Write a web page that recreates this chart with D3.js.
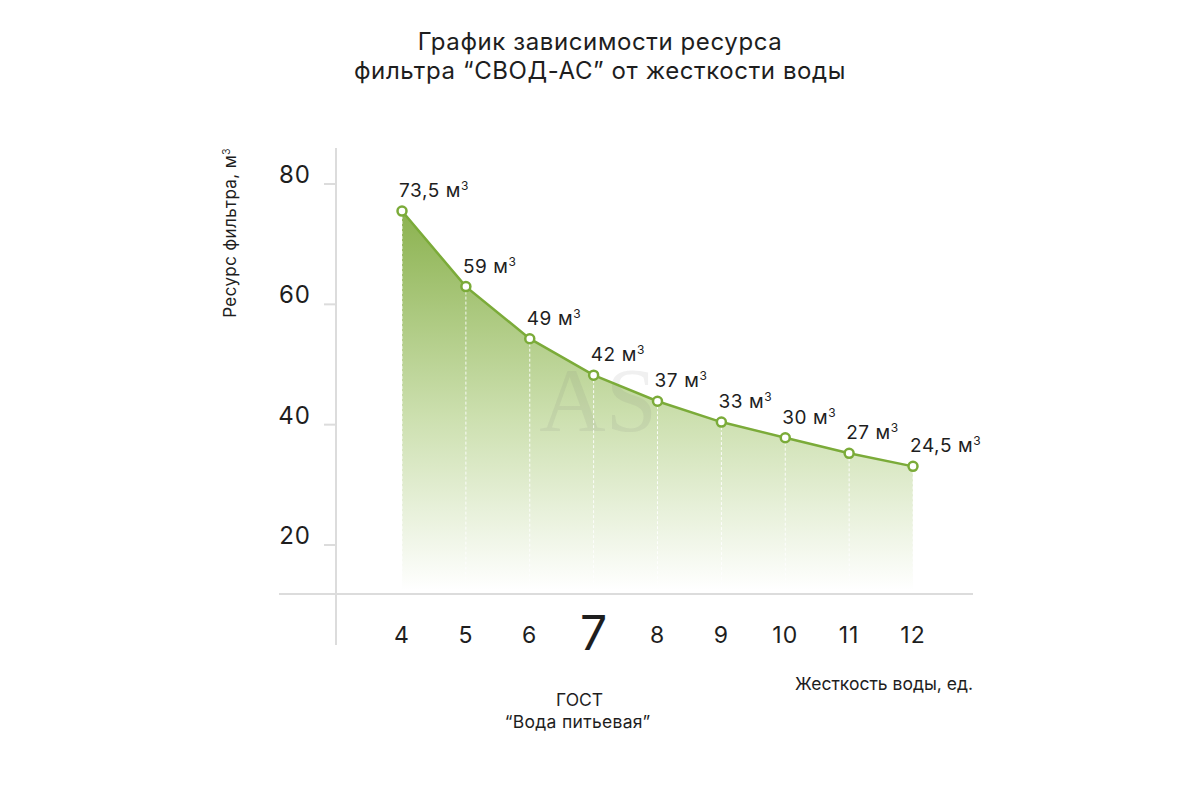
<!DOCTYPE html>
<html>
<head>
<meta charset="utf-8">
<script src="https://cdn.jsdelivr.net/npm/d3@7"></script>
<style>
  body { margin: 0; background: #fff; }
  svg text { font-family: Inter, "Noto Sans", sans-serif; fill: #1e1e1e; }
</style>
</head>
<body>
<script>
"use strict";
// data
const hardness = [4, 5, 6, 7, 8, 9, 10, 11, 12];
const resource = [73.5, 59, 49, 42, 37, 33, 30, 27, 24.5];
const labels = ["73,5", "59", "49", "42", "37", "33", "30", "27", "24,5"];
const yTicks = [20, 40, 60, 80];
const xTicks = [4, 5, 6, 7, 8, 9, 10, 11, 12];
const gostTick = 7;

const width = 1200, height = 800;
const green = "#7bab39";

let svg = d3.select("body")
    .append("svg")
    .attr("width", width)
    .attr("height", height);

let x = d3.scaleLinear().domain([4, 12]).range([402, 913]);
// points are drawn on their own scale, zero at the x axis
let y = d3.scaleLinear().domain([0, 100]).range([594, 73]);
// the axis labels of the original are not on the point scale
let yLab = d3.scaleLinear().domain([20, 80]).range([545, 184]);

let defs = svg.append("defs");
let grad = defs.append("linearGradient")
    .attr("id", "fillGrad")
    .attr("gradientUnits", "userSpaceOnUse")
    .attr("x1", 0).attr("x2", 0)
    .attr("y1", y(d3.max(resource))).attr("y2", 590);
grad.append("stop").attr("offset", "0%").attr("stop-color", "#8bb24f");
grad.append("stop").attr("offset", "55%").attr("stop-color", "#cde0b0");
grad.append("stop").attr("offset", "100%").attr("stop-color", "#ffffff");

let data = hardness.map(function(h, i){
    return {h: h, v: resource[i], label: labels[i]};
});

// title
let title = svg.append("text")
    .attr("text-anchor", "middle")
    .style("font-size", "24px")
    .style("letter-spacing", "0.6px");
title.append("tspan").attr("x", 600).attr("y", 50).text("График зависимости ресурса");
title.append("tspan").attr("x", 600).attr("y", 79).text("фильтра “СВОД-АС” от жесткости воды");

// area
let area = d3.area()
    .x(d => x(d.h))
    .y0(590)
    .y1(d => y(d.v));
svg.append("path")
    .datum(data)
    .attr("d", area)
    .attr("fill", "url(#fillGrad)");

// watermark
svg.append("text")
    .attr("x", 598)
    .attr("y", 431)
    .attr("text-anchor", "middle")
    .style("font-family", "'Liberation Serif', 'DejaVu Serif', serif")
    .style("font-size", "92px")
    .style("fill", "rgba(120,120,120,0.11)")
    .text("AS");

// dashed drop lines
svg.append("g")
    .selectAll("line")
    .data(data)
    .enter()
    .append("line")
    .attr("x1", d => x(d.h))
    .attr("x2", d => x(d.h))
    .attr("y1", d => y(d.v) + 5)
    .attr("y2", 590)
    .attr("stroke", "#ffffff")
    .attr("stroke-width", 1)
    .attr("stroke-dasharray", "3,2")
    .attr("opacity", 0.9);

// axes
svg.append("line")
    .attr("x1", 336).attr("x2", 336)
    .attr("y1", 148).attr("y2", 645)
    .attr("stroke", "#dcdcdc").attr("stroke-width", 2);
svg.append("line")
    .attr("x1", 279).attr("x2", 973)
    .attr("y1", 594).attr("y2", 594)
    .attr("stroke", "#dcdcdc").attr("stroke-width", 2);

let yg = svg.append("g");
yg.selectAll("line")
    .data(yTicks)
    .enter()
    .append("line")
    .attr("x1", 324).attr("x2", 336)
    .attr("y1", d => yLab(d)).attr("y2", d => yLab(d))
    .attr("stroke", "#dcdcdc").attr("stroke-width", 2);
yg.selectAll("text")
    .data(yTicks)
    .enter()
    .append("text")
    .attr("x", 311)
    .attr("y", d => yLab(d) - 1)
    .attr("text-anchor", "end")
    .style("font-size", "24px")
    .style("letter-spacing", "1px")
    .text(d => d);

svg.append("g")
    .selectAll("text")
    .data(xTicks)
    .enter()
    .append("text")
    .attr("x", d => x(d))
    .attr("y", d => d === gostTick ? 650 : 643)
    .attr("text-anchor", "middle")
    .style("font-size", d => d === gostTick ? "48px" : "23px")
    .style("letter-spacing", d => d === gostTick ? "0px" : "1px")
    .text(d => d);

// line and points
let line = d3.line()
    .x(d => x(d.h))
    .y(d => y(d.v));
svg.append("path")
    .datum(data)
    .attr("d", line)
    .attr("fill", "none")
    .attr("stroke", green)
    .attr("stroke-width", 2.5);

svg.append("g")
    .selectAll("circle")
    .data(data)
    .enter()
    .append("circle")
    .attr("cx", d => x(d.h))
    .attr("cy", d => y(d.v))
    .attr("r", 4.5)
    .attr("fill", "#fff")
    .attr("stroke", green)
    .attr("stroke-width", 2.5);

let vl = svg.append("g")
    .selectAll("text")
    .data(data)
    .enter()
    .append("text")
    .attr("x", d => x(d.h) - 3)
    .attr("y", d => y(d.v) - 14)
    .style("font-size", "19px")
    .style("letter-spacing", "0.6px");
vl.append("tspan").text(d => d.label + " м");
vl.append("tspan")
    .attr("dy", -7)
    .style("font-size", "12px")
    .text("3");

// axis titles
let yt = svg.append("text")
    .attr("transform", "translate(236,233) rotate(-90)")
    .attr("text-anchor", "middle")
    .style("font-size", "17px")
    .style("letter-spacing", "0.4px");
yt.append("tspan").text("Ресурс фильтра, м");
yt.append("tspan").attr("dy", -6).style("font-size", "10px").text("3");

svg.append("text")
    .attr("x", 973)
    .attr("y", 690)
    .attr("text-anchor", "end")
    .style("font-size", "17.5px")
    .text("Жесткость воды, ед.");

svg.append("text")
    .attr("x", x(gostTick) - 14)
    .attr("y", 706)
    .attr("text-anchor", "middle")
    .style("font-size", "17.5px")
    .text("ГОСТ");
svg.append("text")
    .attr("x", x(gostTick) - 16)
    .attr("y", 728)
    .attr("text-anchor", "middle")
    .style("font-size", "17.5px")
    .style("letter-spacing", "0.3px")
    .text("“Вода питьевая”");
</script>
</body>
</html>
